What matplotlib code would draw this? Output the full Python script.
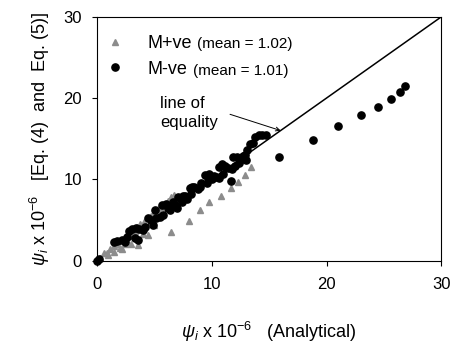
import matplotlib
matplotlib.use("Agg")
import matplotlib.pyplot as plt

plt.rcParams['font.family'] = ['Liberation Sans', 'DejaVu Sans']
plt.rcParams['mathtext.fontset'] = 'custom'
plt.rcParams['mathtext.rm'] = 'Liberation Sans'
plt.rcParams['mathtext.it'] = 'Liberation Sans:italic'

# M+ve (grey triangles)
mpos_x = [0.3, 0.6, 0.9, 1.2, 1.5, 1.8, 2.0, 2.2, 2.4, 2.7, 3.0, 3.0, 3.3, 3.6, 3.5, 3.8,
          4.1, 4.5, 4.4, 4.7, 5.0, 5.3, 5.6, 5.9, 6.2, 6.5, 6.7, 6.9, 1.0, 1.5, 2.5, 4.0,
          5.0, 6.5, 8.0, 9.0, 9.8, 10.8, 11.7, 12.3, 12.9, 13.4]
mpos_y = [0.3, 0.9, 1.0, 1.5, 1.8, 2.1, 1.6, 1.4, 2.7, 3.0, 2.0, 3.4, 3.6, 1.9, 4.2, 4.5,
          4.8, 3.1, 5.2, 5.5, 5.9, 6.3, 6.6, 7.0, 7.4, 7.8, 8.1, 7.5, 0.7, 1.1, 2.0, 3.3,
          4.4, 3.5, 4.9, 6.2, 7.2, 8.0, 8.9, 9.7, 10.5, 11.5]

# M-ve (black circles)
mneg_x = [0.0, 0.2, 1.5, 1.8, 2.2, 2.5, 2.6, 2.8, 3.1, 3.4, 3.7, 4.0, 3.3, 3.6, 4.2, 4.5,
          4.7, 4.9, 5.1, 5.2, 5.5, 5.8, 5.7, 6.0, 6.2, 6.4, 6.6, 6.8, 7.0, 7.1, 7.3, 7.5,
          7.7, 7.4, 7.9, 8.1, 8.3, 8.5, 8.8, 8.2, 9.0, 9.1, 9.4, 9.6, 9.8, 9.6, 10.0, 10.2,
          10.4, 10.6, 10.9, 11.2, 11.4, 11.0, 10.6, 11.7, 11.8, 11.9, 12.2, 12.0, 12.5, 12.7,
          12.9, 13.1, 13.3, 13.6, 13.8, 14.1, 14.4, 14.7, 13.0, 12.4,
          15.9, 18.8, 21.0, 23.0, 24.5, 25.6, 26.4, 26.8]
mneg_y = [0.0, 0.2, 2.3, 2.4, 2.5, 2.3, 2.9, 3.7, 3.9, 4.0, 3.9, 3.8, 2.8, 2.6, 4.2, 5.2,
          5.0, 4.4, 6.2, 5.3, 5.4, 5.6, 6.8, 7.0, 6.5, 6.2, 7.2, 6.9, 6.5, 7.8, 7.6, 7.9,
          8.0, 7.2, 7.6, 8.9, 9.1, 9.0, 8.8, 8.2, 9.0, 9.6, 10.5, 10.4, 10.7, 9.6, 10.0, 10.4,
          10.3, 11.5, 11.9, 11.7, 11.4, 10.6, 10.2, 9.8, 11.3, 12.8, 12.7, 11.7, 12.4, 12.9,
          13.0, 13.6, 14.3, 14.5, 15.2, 15.4, 15.5, 15.4, 12.4, 12.0,
          12.8, 14.9, 16.6, 17.9, 18.9, 19.9, 20.7, 21.5]

equality = [0, 30]
ticks = [0, 10, 20, 30]

fig = plt.figure(figsize=(4.52, 3.49), dpi=100)
ax = fig.add_axes([96.7/452, 1 - 260.7/349, 344.8/452, 244/349])

ax.plot(equality, equality, color='black', lw=1.1, zorder=1)
h1, = ax.plot(mpos_x, mpos_y, linestyle='none', marker='^', ms=4.6, color='#8c8c8c',
              mec='#8c8c8c', zorder=2, clip_on=False)
h2, = ax.plot(mneg_x, mneg_y, linestyle='none', marker='o', ms=5.2, color='black',
              zorder=3, clip_on=False)

ax.set_xlim(0, 30)
ax.set_ylim(0, 30)
ax.set_xticks(ticks)
ax.set_yticks(ticks)
ax.tick_params(axis='x', direction='out', length=3.5, pad=8.5, labelsize=12)
ax.tick_params(axis='y', direction='out', length=3.5, pad=7, labelsize=12)
for s in ax.spines.values():
    s.set_linewidth(0.8)

leg = ax.legend([h1, h2], ['M+ve', 'M-ve'], loc='upper left', bbox_to_anchor=(0.0, 0.96),
                frameon=False, fontsize=13, handlelength=1.0, handletextpad=1.3,
                labelspacing=0.45, borderaxespad=0.3, borderpad=0.2)
ax.text(0.292, 0.888, '(mean = 1.02)', transform=ax.transAxes, fontsize=11, va='center')
ax.text(0.278, 0.777, '(mean = 1.01)', transform=ax.transAxes, fontsize=11, va='center')

ax.text(5.5, 20.3, 'line of\nequality', fontsize=12, ha='left', va='top', linespacing=1.35)
ax.annotate('', xy=(16.0, 16.0), xytext=(11.6, 18.0),
            arrowprops=dict(arrowstyle='->', lw=0.7, color='black',
                            shrinkA=0, shrinkB=0, mutation_scale=7))

ax.set_xlabel(r'$\psi_i$ x 10$^{-6}$   (Analytical)', fontsize=13, labelpad=20)
ax.set_ylabel(r'$\psi_i$ x 10$^{-6}$   [Eq. (4)  and  Eq. (5)]', fontsize=13, labelpad=8)

fig.savefig('out.png', dpi=100)
